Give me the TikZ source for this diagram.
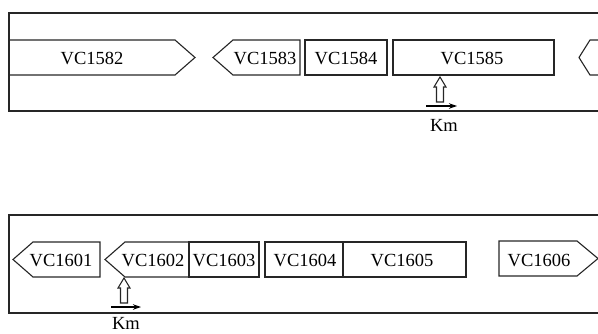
\documentclass[tikz,border=0pt]{standalone}
\usepackage{fontspec}
\setmainfont{Liberation Serif}
\usetikzlibrary{arrows.meta}
\tikzset{
  ln/.style={draw=black!85, line width=1.1pt, line join=miter},
  vtxt/.style={font=\fontsize{18.5}{20}\selectfont, inner sep=0pt, anchor=base},
  kmtxt/.style={font=\fontsize{18.5}{20}\selectfont, inner sep=0pt, anchor=base},
  hollow/.style={draw=black!85, line width=1.1pt, fill=white},
  dirarrow/.style={draw=black, line width=1.1pt, -{Stealth[length=8pt,width=5.5pt]}}
}
\begin{document}
\begin{tikzpicture}[x=1pt,y=-1pt]
\useasboundingbox (0,0) rectangle (598,333);
% ---------- top panel ----------
\draw[ln] (598,13) -- (9,13) -- (9,111) -- (598,111);
\draw[ln] (9,40) -- (175,40) -- (195,57.5) -- (175,75) -- (9,75);
\draw[ln] (213,57.5) -- (233,40) -- (300,40) -- (300,75) -- (233,75) -- cycle;
\draw[ln] (305,40) rectangle (387,75);
\draw[ln] (393,40) rectangle (554,75);
\draw[ln] (598,40) -- (590,40) -- (579,57.5) -- (590,75) -- (598,75);
\node[vtxt] (vc1582) at (92,64.5) {VC1582};
\node[vtxt] (vc1583) at (265,64.5) {VC1583};
\node[vtxt] (vc1584) at (346,64.5) {VC1584};
\node[vtxt] (vc1585) at (472,64.5) {VC1585};
\draw[hollow] (440,77) -- (446,87) -- (443.5,87) -- (443.5,102) -- (436.5,102) -- (436.5,87) -- (434,87) -- cycle;
\coordinate (a1s) at (426,106);
\coordinate (a1e) at (457,106);
\draw[dirarrow] (a1s) -- (a1e);
\node[kmtxt] (km1) at (444,131) {Km};
% ---------- bottom panel ----------
\draw[ln] (598,215) -- (9,215) -- (9,313) -- (598,313);
\draw[ln] (13,259.5) -- (33,242) -- (100,242) -- (100,277) -- (33,277) -- cycle;
\draw[ln] (105,259.5) -- (125,242) -- (189,242) -- (189,277) -- (125,277) -- cycle;
\draw[ln] (189,242) rectangle (259,277);
\draw[ln] (265,242) rectangle (343,277);
\draw[ln] (343,242) rectangle (466,277);
\draw[ln] (499,241) -- (577,241) -- (598,258.5) -- (577,276) -- (499,276) -- cycle;
\node[vtxt] (vc1601) at (61,266.5) {VC1601};
\node[vtxt] (vc1602) at (153,266.5) {VC1602};
\node[vtxt] (vc1603) at (224,266.5) {VC1603};
\node[vtxt] (vc1604) at (305,266.5) {VC1604};
\node[vtxt] (vc1605) at (402,266.5) {VC1605};
\node[vtxt] (vc1606) at (539,266) {VC1606};
\draw[hollow] (124,278) -- (130,288) -- (127.5,288) -- (127.5,303) -- (120.5,303) -- (120.5,288) -- (118,288) -- cycle;
\coordinate (a2s) at (111,307);
\coordinate (a2e) at (141,307);
\draw[dirarrow] (a2s) -- (a2e);
\node[kmtxt] (km2) at (126,329.5) {Km};
\end{tikzpicture}
\end{document}
